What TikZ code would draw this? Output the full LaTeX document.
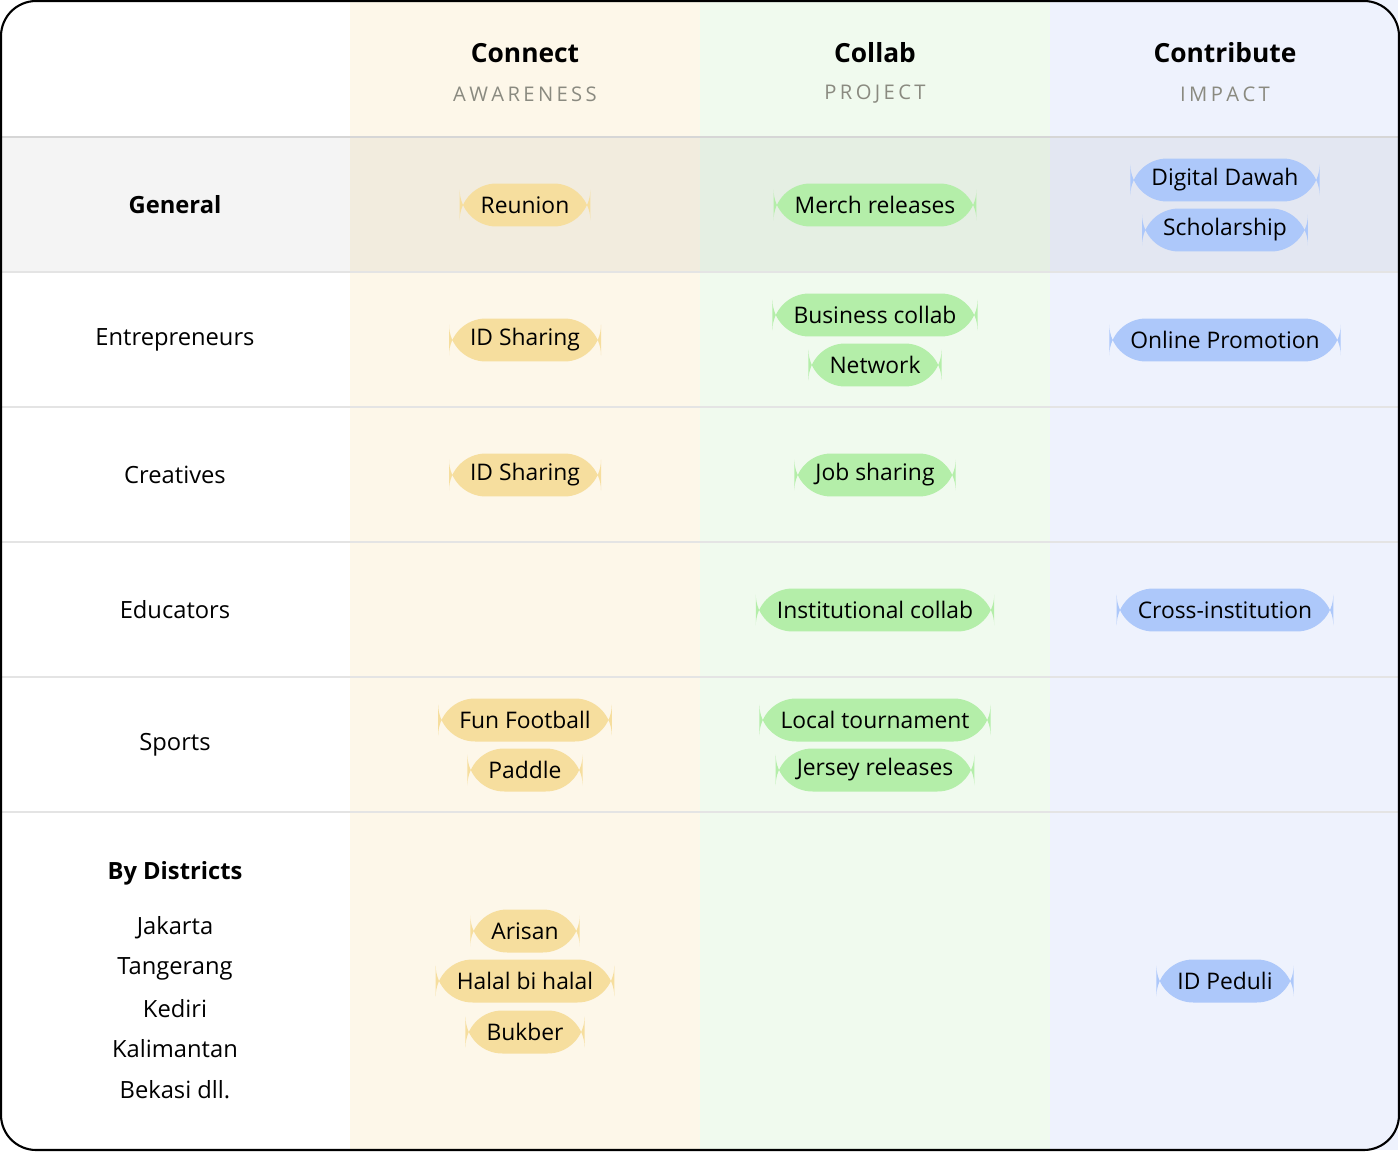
\documentclass[tikz,border=0pt]{standalone}
\usepackage{fontspec}
\setmainfont{Open Sans}
\usepackage{tikz}
\usetikzlibrary{positioning}
\definecolor{connectbg}{HTML}{FDF7E9}
\definecolor{collabbg}{HTML}{F0FAEE}
\definecolor{contribbg}{HTML}{EEF2FD}
\definecolor{connectpill}{HTML}{F6DE9E}
\definecolor{collabpill}{HTML}{B4EEA9}
\definecolor{contribpill}{HTML}{ADC8FA}
\definecolor{subgray}{HTML}{8A8A80}
\definecolor{rule}{HTML}{E4E4E4}
\definecolor{headrule}{HTML}{D6D6D6}
\tikzset{
  pill/.style={rounded corners=21pt, minimum height=0.86cm, inner xsep=12pt, font=\fontsize{13}{15}\selectfont},
  yel/.style={pill, fill=connectpill},
  grn/.style={pill, fill=collabpill},
  blu/.style={pill, fill=contribpill},
  rowlabel/.style={font=\fontsize{13.5}{16}\selectfont},
  head/.style={font=\fontsize{15}{18}\selectfont\bfseries},
  sub/.style={font=\fontsize{11.5}{14}\selectfont, text=subgray}
}
\begin{document}
\begin{tikzpicture}[x=0.02cm, y=-0.02cm]
		\useasboundingbox (0,0) rectangle (1400,1152);
		% column backgrounds
		\fill[connectbg] (350,0) rectangle (700,1150);
		\fill[collabbg] (700,0) rectangle (1050,1150);
		\fill[contribbg] (1050,0) rectangle (1398,1150);
		\fill[black, opacity=0.045] (1,137) rectangle (1399,272);
		% rules
		\draw[headrule, line width=1.2pt] (1,137) -- (1399,137);
		\foreach \y in {272,407,542,677,812}
			\draw[rule, line width=0.8pt] (1,\y) -- (1399,\y);
		\draw[line width=1.2pt, rounded corners=20pt] (1,1) rectangle (1399,1150);

		% header
		\node[head] (hconnect) at (525,53) {Connect};
		\node[sub] (sconnect) at (525,94) {A\,W\,A\,R\,E\,N\,E\,S\,S};
		\node[head] (hcollab) at (875,53) {Collab};
		\node[sub] (scollab) at (875,94) {P\,R\,O\,J\,E\,C\,T};
		\node[head] (hcontrib) at (1225,53) {Contribute};
		\node[sub] (scontrib) at (1225,94) {I\,M\,P\,A\,C\,T};

		% row labels
		\node[rowlabel, font=\fontsize{13.5}{16}\selectfont\bfseries] (rgeneral) at (175,205) {General};
		\node[rowlabel] (rentre) at (175,340) {Entrepreneurs};
		\node[rowlabel] (rcreat) at (175,475) {Creatives};
		\node[rowlabel] (reduc) at (175,610) {Educators};
		\node[rowlabel] (rsport) at (175,745) {Sports};
		\node[rowlabel, font=\fontsize{13.5}{16}\selectfont\bfseries] (rdist) at (175,873) {By Districts};
		\node[rowlabel] (djkt) at (175,928) {Jakarta};
		\node[rowlabel] (dtgr) at (175,969) {Tangerang};
		\node[rowlabel] (dkdr) at (175,1009) {Kediri};
		\node[rowlabel] (dklm) at (175,1049) {Kalimantan};
		\node[rowlabel] (dbks) at (175,1090) {Bekasi dll.};

		% connect
		\node[yel] (reunion) at (525,205) {Reunion};
		\node[yel] (idshare1) at (525,340) {ID Sharing};
		\node[yel] (idshare2) at (525,475) {ID Sharing};
		\node[yel] (football) at (525,720) {Fun Football};
		\node[yel] (paddle) at (525,770) {Paddle};
		\node[yel] (arisan) at (525,931) {Arisan};
		\node[yel] (halal) at (525,981) {Halal bi halal};
		\node[yel] (bukber) at (525,1032) {Bukber};

		% collab
		\node[grn] (merch) at (875,205) {Merch releases};
		\node[grn] (business) at (875,315) {Business collab};
		\node[grn] (network) at (875,365) {Network};
		\node[grn] (job) at (875,475) {Job sharing};
		\node[grn] (instit) at (875,610) {Institutional collab};
		\node[grn] (tourn) at (875,720) {Local tournament};
		\node[grn] (jersey) at (875,770) {Jersey releases};

		% contribute
		\node[blu] (dawah) at (1225,180) {Digital Dawah};
		\node[blu] (scholar) at (1225,230) {Scholarship};
		\node[blu] (promo) at (1225,340) {Online Promotion};
		\node[blu] (cross) at (1225,610) {Cross-institution};
		\node[blu] (peduli) at (1225,981) {ID Peduli};
\end{tikzpicture}
\end{document}
